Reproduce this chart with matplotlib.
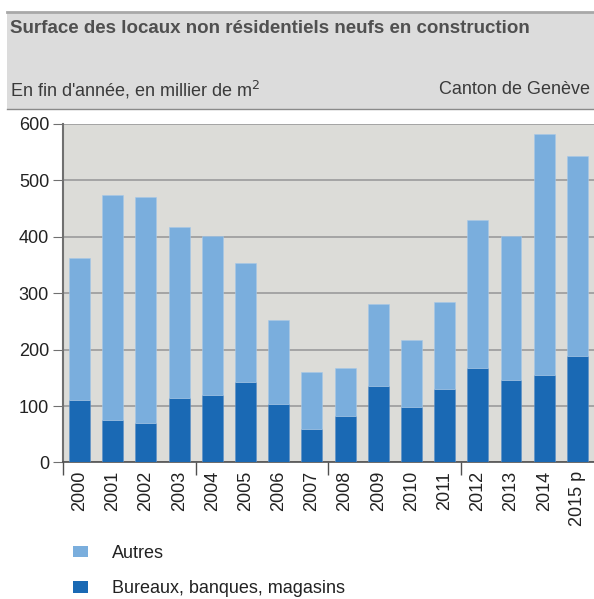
import matplotlib
matplotlib.use("Agg")
import matplotlib.pyplot as plt
from matplotlib.patches import Rectangle, Patch
from matplotlib.lines import Line2D

plt.rcParams['font.family'] = ['Liberation Sans', 'DejaVu Sans']

# Data (milliers de m2)
years = ["2000", "2001", "2002", "2003", "2004", "2005", "2006", "2007",
         "2008", "2009", "2010", "2011", "2012", "2013", "2014", "2015 p"]
bureaux = [111, 75, 70, 115, 119, 143, 103, 59, 83, 136, 99, 131, 168, 147, 155, 188]
totals = [362, 474, 471, 418, 402, 354, 253, 160, 168, 281, 217, 285, 430, 402, 583, 543]
autres = [t - b for t, b in zip(totals, bureaux)]

DARK = '#1a69b4'
LIGHT = '#7aaedd'
TEXT = '#3a3a3a'
FS = 13

fig = plt.figure(figsize=(5.94, 5.99), dpi=100)

# header band
fig.patches.append(Rectangle((0.012, 0.818), 0.988, 0.162, transform=fig.transFigure,
                             facecolor='#dcdcdc', edgecolor='none', zorder=0))
fig.add_artist(Line2D([0.012, 1], [0.980, 0.980], transform=fig.transFigure, color='#a8a8a8', lw=2))
fig.add_artist(Line2D([0.012, 1], [0.818, 0.818], transform=fig.transFigure, color='#8a8a8a', lw=1))
fig.text(0.017, 0.953, "Surface des locaux non résidentiels neufs en construction",
         fontsize=13.5, fontweight='bold', color='#505050', va='center', ha='left')
fig.text(0.017, 0.850, "En fin d'année, en millier de m$^2$",
         fontsize=FS, color=TEXT, va='center', ha='left')
fig.text(0.993, 0.850, "Canton de Genève", fontsize=FS, color=TEXT, va='center', ha='right')

ax = fig.add_axes([0.106, 0.228, 0.894, 0.565])
ax.set_facecolor('#dcdcd8')
x = list(range(len(years)))
ax.bar(x, bureaux, width=0.63, color=DARK, zorder=3, edgecolor='#5a8fc8', linewidth=0.4)
ax.bar(x, autres, bottom=bureaux, width=0.63, color=LIGHT, zorder=3,
       edgecolor='#a8c8e8', linewidth=0.4)

ax.set_xlim(-0.5, 15.5)
ax.set_ylim(0, 600)
ax.set_yticks(range(0, 601, 100))
ax.yaxis.grid(True, color='#a0a0a0', lw=1.3, zorder=0)
ax.tick_params(axis='y', length=7, color='#707070', labelsize=FS, labelcolor='#222222', pad=3)

ax.set_xticks(x)
ax.set_xticklabels(years, rotation=90, fontsize=FS, color='#222222')
ax.tick_params(axis='x', which='major', length=0, pad=6)
ax.set_xticks([-0.5, 3.5, 7.5, 11.5], minor=True)
ax.tick_params(axis='x', which='minor', length=9, color='#505050', width=1)

for s in ['top', 'right']:
    ax.spines[s].set_visible(False)
ax.spines['left'].set_color('#707070')
ax.spines['left'].set_linewidth(1.5)
ax.spines['bottom'].set_color('#505050')
ax.spines['bottom'].set_linewidth(1.2)

handles = [Patch(facecolor=LIGHT, label='Autres'),
           Patch(facecolor=DARK, label='Bureaux, banques, magasins')]
fig.legend(handles=handles, loc='upper left', bbox_to_anchor=(0.123, 0.09),
           frameon=False, fontsize=FS, handlelength=0.85, handleheight=0.6,
           handletextpad=1.3, labelspacing=1.0, labelcolor='#222222',
           borderpad=0, borderaxespad=0)

fig.savefig('out.png', dpi=100)
